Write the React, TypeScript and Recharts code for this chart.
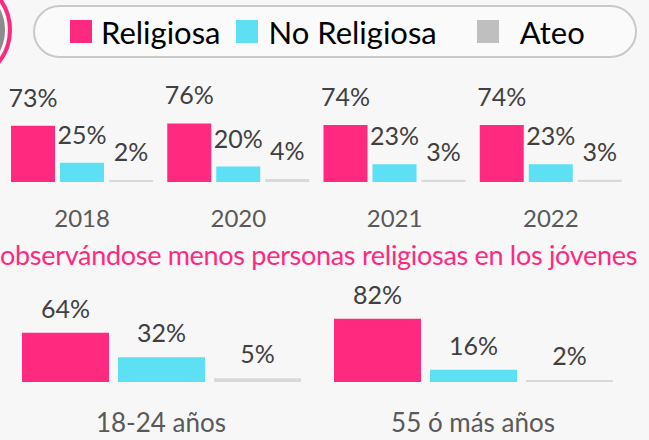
import React from 'react'
import { BarChart, Bar, XAxis, YAxis, LabelList } from 'recharts'

// values
const years = ['2018', '2020', '2021', '2022']
const religiosaByYear = [73, 76, 74, 74]
const noReligiosaByYear = [25, 20, 23, 23]
const ateoByYear = [2, 4, 3, 3]

const ageGroups = ['18-24 años', '55 ó más años']
const religiosaByAge = [64, 82]
const noReligiosaByAge = [32, 16]
const ateoByAge = [5, 2]

const seriesNames = ['Religiosa', 'No Religiosa', 'Ateo']
const subtitle = 'observándose menos personas religiosas en los jóvenes'

const PINK = '#ff2a7f'
const CYAN = '#5ddff4'
const GRAY = '#d9d9d9'
const LEGEND_GRAY = '#bfbfbf'
const FONT = 'Lato, "Open Sans", sans-serif'

const yearData = years.map((year, i) => ({
  year,
  religiosa: religiosaByYear[i],
  noReligiosa: noReligiosaByYear[i],
  ateo: ateoByYear[i],
}))

const ageData = ageGroups.map((group, i) => ({
  group,
  religiosa: religiosaByAge[i],
  noReligiosa: noReligiosaByAge[i],
  ateo: ateoByAge[i],
}))

const pct = (v: any) => `${v}%`
const labelStyle = { fontSize: 25, fill: '#404040', fontFamily: FONT }
const topTickStyle = { fontSize: 24, fill: '#595959', fontFamily: FONT }
const ageTickStyle = { fontSize: 26, fill: '#595959', fontFamily: FONT }

function LegendBox() {
  const swatches = [PINK, CYAN, LEGEND_GRAY]
  const textGap = [9, 11, 21]
  const after = [15, 40, 0]
  return (
    <div
      style={{
        position: 'absolute',
        left: 33,
        top: 5,
        width: 604,
        height: 53,
        border: '2px solid #c9c9c9',
        borderRadius: 27,
        background: '#fafafa',
        display: 'flex',
        alignItems: 'center',
        paddingLeft: 35,
        boxSizing: 'border-box',
        fontFamily: FONT,
        fontSize: 31,
        color: '#000',
      }}
    >
      {seriesNames.map((name, i) => (
        <div key={name} style={{ display: 'flex', alignItems: 'center', marginRight: after[i] }}>
          <span style={{ width: 22, height: 23, background: swatches[i], display: 'inline-block', marginRight: textGap[i] }} />
          <span>{name}</span>
        </div>
      ))}
    </div>
  )
}

export default function App() {
  return (
    <div
      style={{
        position: 'absolute',
        left: 0,
        top: 0,
        width: 649,
        height: 440,
        overflow: 'hidden',
        background: '#f7f7f7',
        fontFamily: FONT,
      }}
    >
      {/* decorative ring at the top-left edge */}
      <div
        style={{
          position: 'absolute',
          left: -96,
          top: -24,
          width: 100,
          height: 100,
          borderRadius: '50%',
          border: '4px solid ' + PINK,
          boxShadow: 'inset 0 0 0 3px #f7f7f7, inset 0 0 0 8px #8c8c8c',
        }}
      />
      <LegendBox />

      <div style={{ position: 'absolute', left: 0, top: 70 }}>
        <BarChart width={649} height={162} data={yearData} margin={{ top: 35, right: 20, bottom: 0, left: 4 }} barSize={44} barGap={5}>
          <XAxis dataKey="year" axisLine={false} tickLine={false} tickSize={0} tickMargin={28} height={50} interval={0} tick={topTickStyle} />
          <YAxis hide domain={[0, 100]} />
          <Bar dataKey="religiosa" fill={PINK} isAnimationActive={false}>
            <LabelList dataKey="religiosa" position="top" offset={19} formatter={pct} style={labelStyle} />
          </Bar>
          <Bar dataKey="noReligiosa" fill={CYAN} isAnimationActive={false}>
            <LabelList dataKey="noReligiosa" position="top" offset={19} formatter={pct} style={labelStyle} />
          </Bar>
          <Bar dataKey="ateo" fill={GRAY} isAnimationActive={false} minPointSize={2}>
            <LabelList dataKey="ateo" position="top" offset={19} formatter={pct} style={labelStyle} />
          </Bar>
        </BarChart>
      </div>

      <div
        style={{
          position: 'absolute',
          left: 0,
          top: 238,
          fontSize: 27,
          lineHeight: '34px',
          color: PINK,
          whiteSpace: 'nowrap',
          letterSpacing: -0.3,
        }}
      >
        {subtitle}
      </div>

      <div style={{ position: 'absolute', left: 0, top: 270 }}>
        <BarChart width={649} height={172} data={ageData} margin={{ top: 35, right: 20, bottom: 0, left: 5 }} barSize={87} barGap={9}>
          <XAxis dataKey="group" axisLine={false} tickLine={false} tickSize={0} tickMargin={32} height={60} interval={0} tick={ageTickStyle} />
          <YAxis hide domain={[0, 100]} />
          <Bar dataKey="religiosa" fill={PINK} isAnimationActive={false}>
            <LabelList dataKey="religiosa" position="top" offset={15} formatter={pct} style={labelStyle} />
          </Bar>
          <Bar dataKey="noReligiosa" fill={CYAN} isAnimationActive={false}>
            <LabelList dataKey="noReligiosa" position="top" offset={15} formatter={pct} style={labelStyle} />
          </Bar>
          <Bar dataKey="ateo" fill={GRAY} isAnimationActive={false} minPointSize={2}>
            <LabelList dataKey="ateo" position="top" offset={15} formatter={pct} style={labelStyle} />
          </Bar>
        </BarChart>
      </div>
    </div>
  )
}
